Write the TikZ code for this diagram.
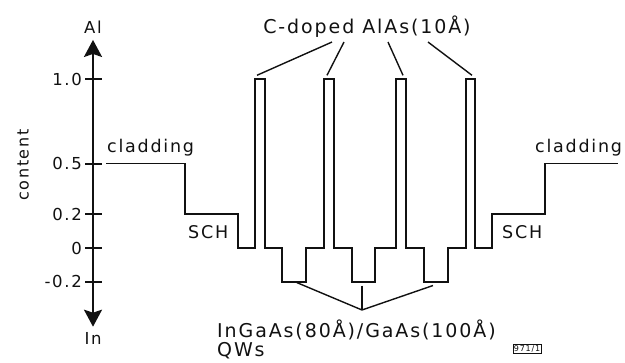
\documentclass[tikz,border=0pt]{standalone}
\usepackage{fontspec}
\setmainfont{DejaVu Sans}[LetterSpace=10]
\usetikzlibrary{arrows.meta}
\definecolor{plotink}{HTML}{111111}

\begin{document}
\begin{tikzpicture}[x=1pt, y=169pt, >={Stealth[length=17pt, width=18pt, inset=3pt]},
                    every node/.style={plotink, inner sep=0pt},
                    lbl/.style={font=\fontsize{19}{23}\selectfont},
                    lay/.style={font=\fontsize{17.5}{21}\selectfont, anchor=base west},
                    tlbl/.style={font=\fontsize{16.5}{20}\selectfont, anchor=east},
                    ink/.style={plotink, line width=1.7pt},
                    lead/.style={plotink, line width=1.4pt},
                    tick/.style={plotink, line width=2pt}]

  \useasboundingbox (0,-0.6746) rectangle (625,1.4675);

  %% axis: Al above, In below
  \node[tlbl, anchor=center] (Al) at (93,1.305) {Al};
  \node[tlbl, anchor=center] (In) at (93,-0.538) {In};
  \node[tlbl, anchor=center, font=\fontsize{16}{20}\selectfont, rotate=90] (content) at (23,0.491) {content};
  \coordinate (o) at (93,0);
  \draw[plotink, line width=2.4pt, <->, shorten <=6pt, shorten >=6pt]
    (o |- In.north) -- (o |- Al.south);

  %% ticks and their values
  \foreach \v [count=\i] in {1.0,0.5,0.2,0,-0.2} {
    \draw[tick] (85,\v) -- (102,\v);
    \node[tlbl] (tk\i) at (82,\v) {\v};
  }

  %% composition profile
  \draw[ink] (106,0.5) -| (185,0.2) -| (238,0) -| (255,1) -| (265,0)
    -| (282,-0.2) -| (306,0) -| (324,1) -| (334,0)
    -| (352,-0.2) -| (375,0) -| (396,1) -| (406,0)
    -| (424,-0.2) -| (448,0) -| (466,1) -| (475,0)
    -| (492,0.2) -| (545,0.5) -- (618,0.5);

  %% layer names
  \node[lay] (cladL) at (107,0.568) {cladding};
  \node[lay] (cladR) at (535,0.568) {cladding};
  \node[lay] (schL) at (188,0.059) {SCH};
  \node[lay] (schR) at (502,0.059) {SCH};

  %% C-doped barriers
  \node[lbl, anchor=base] (dop) at (367,1.272) {C-doped AlAs(10Å)};
  \coordinate (bar1) at (257,1.022);
  \coordinate (bar2) at (327,1.022);
  \coordinate (bar3) at (403,1.022);
  \coordinate (bar4) at (472,1.022);
  \foreach \dx/\b in {-35/bar1, -23/bar2, 21/bar3, 61/bar4}
    \draw[lead] ([shift={(\dx pt,-9pt)}]dop.base) -- (\b);

  %% quantum wells
  \node[lbl, anchor=base west] (qw) at (217,-0.5325) {InGaAs(80Å)/GaAs(100Å)};
  \node[lbl, anchor=base west] (qws) at ([yshift=-19pt]qw.base west) {QWs};
  \coordinate (qwb1) at (297,-0.205);
  \coordinate (qwb2) at (362,-0.222);
  \coordinate (qwb3) at (433,-0.222);
  \coordinate (qwtip) at ([shift={(145pt,28pt)}]qw.base west);
  \draw[lead] (qwb1) -- (qwtip) -- (qwb3);
  \draw[lead] (qwb2) -- (qwtip);

  %% figure number
  \node[draw, line width=0.6pt, inner sep=1pt, font=\fontsize{8}{9}\selectfont] (fignum) at (527,-0.598) {971/1};

\end{tikzpicture}
\end{document}
